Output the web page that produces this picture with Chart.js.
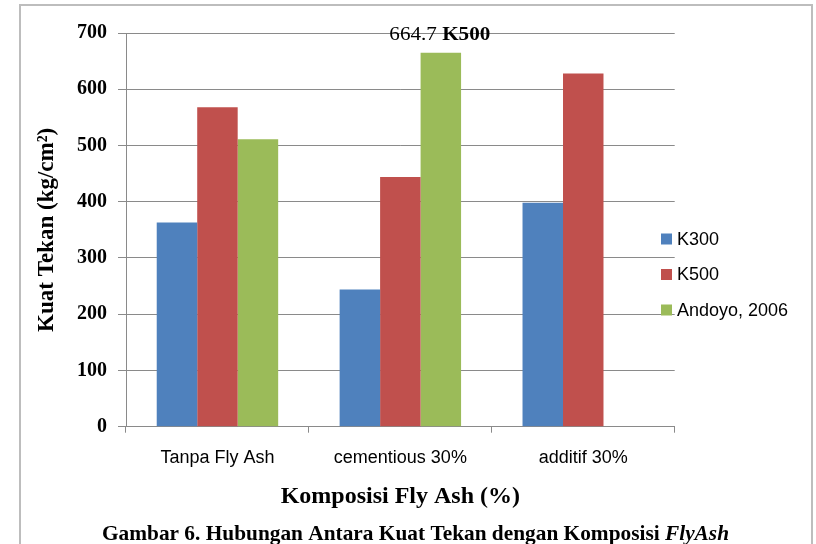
<!DOCTYPE html>
<html>
<head>
<meta charset="utf-8">
<script src="https://cdn.jsdelivr.net/npm/chart.js@4"></script>
<style>
  html, body { margin: 0; padding: 0; background: #fff; }
  #wrap { width: 816px; height: 544px; }
</style>
</head>
<body>
<div id="wrap"><canvas id="grafik"></canvas></div>
<script>
// data
const kategori = ["Tanpa Fly Ash", "cementious 30%", "additif 30%"];
const nilaiK300 = [363, 244, 398];
const nilaiK500 = [568, 444, 628];
const nilaiAndoyo = [511, 664.7, null];
const tickY = [0, 100, 200, 300, 400, 500, 600, 700];
const labelSeri = ["K300", "K500", "Andoyo, 2006"];
const warnaSeri = ["#4f81bd", "#c0504d", "#9bbb59"];

const warnaGrid = "#8a8a8a";

// teks dengan lebar dipaksa (font asli agak dipadatkan)
function tulisBagian(ctx, bagian, x, yBase, lebar, anchor) {
    let total = 0;
    bagian.forEach(b => { ctx.font = b.font; total += ctx.measureText(b.teks).width; });
    const k = lebar / total;
    ctx.save();
    let x0 = anchor === 'center' ? x - lebar / 2 : x;
    ctx.translate(x0, yBase);
    ctx.scale(k, 1);
    ctx.textBaseline = 'alphabetic';
    ctx.textAlign = 'left';
    ctx.fillStyle = '#000';
    let cx = 0;
    bagian.forEach(b => {
        ctx.font = b.font;
        ctx.fillText(b.teks, cx, 0);
        cx += ctx.measureText(b.teks).width;
    });
    ctx.restore();
}

const pluginHiasan = {
    id: 'hiasan',
    beforeDraw(chart) {
        const ctx = chart.ctx;
        ctx.save();
        ctx.fillStyle = '#fff';
        ctx.fillRect(0, 0, chart.width, chart.height);
        ctx.strokeStyle = '#bdbdbd';
        ctx.lineWidth = 2;
        ctx.strokeRect(20, 5, 792, chart.height + 10);
        ctx.restore();
    },
    afterDraw(chart) {
        const ctx = chart.ctx;
        // legenda
        ctx.save();
        const yLeg = [239, 274.5, 310];
        chart.data.datasets.forEach((ds, i) => {
            ctx.fillStyle = ds.backgroundColor;
            ctx.fillRect(661, yLeg[i] - 5.5, 11, 11);
            ctx.fillStyle = '#000';
            ctx.font = '18px "Liberation Sans", Arial, sans-serif';
            ctx.textBaseline = 'middle';
            ctx.textAlign = 'left';
            ctx.fillText(ds.label, 677, yLeg[i] + 1);
        });
        ctx.restore();

        // label di atas batang Andoyo (cementious)
        const bar = chart.getDatasetMeta(2).data[1];
        const yAtas = chart.scales.y.getPixelForValue(700);
        tulisBagian(ctx, [
            { teks: nilaiAndoyo[1] + ' ', font: '18px "Liberation Serif", serif' },
            { teks: labelSeri[1], font: 'bold 18px "Liberation Serif", serif' }
        ], bar.x - 1, yAtas + 6.5, 101, 'center');

        // keterangan gambar
        tulisBagian(ctx, [
            { teks: 'Gambar 6. Hubungan Antara Kuat Tekan dengan Komposisi ', font: 'bold 21px "Liberation Serif", serif' },
            { teks: 'FlyAsh', font: 'italic bold 21px "Liberation Serif", serif' }
        ], 102, 540, 627, 'left');
    }
};

const ctxGrafik = document.getElementById('grafik').getContext('2d');

new Chart(ctxGrafik, {
    type: 'bar',
    data: {
        labels: kategori,
        datasets: [
            { label: labelSeri[0], data: nilaiK300, backgroundColor: warnaSeri[0] },
            { label: labelSeri[1], data: nilaiK500, backgroundColor: warnaSeri[1] },
            { label: labelSeri[2], data: nilaiAndoyo, backgroundColor: warnaSeri[2] }
        ]
    },
    options: {
        responsive: true,
        maintainAspectRatio: false,
        animation: false,
        devicePixelRatio: 1,
        layout: {
            padding: { left: 20, top: 33, right: 141.3, bottom: 33.8 }
        },
        datasets: {
            bar: {
                categoryPercentage: 0.664,
                barPercentage: 1,
                borderWidth: 0
            }
        },
        plugins: {
            legend: { display: false },
            tooltip: { enabled: false },
            title: { display: false }
        },
        scales: {
            x: {
                afterFit: (s) => { s.height = 83.5; },
                grid: {
                    display: true,
                    drawOnChartArea: false,
                    drawTicks: true,
                    tickLength: 6,
                    color: warnaGrid,
                    offset: true
                },
                border: { display: true, color: warnaGrid, width: 1 },
                ticks: {
                    padding: 15,
                    color: '#000',
                    font: { family: '"Liberation Sans", Arial, sans-serif', size: 18 },
                    maxRotation: 0
                },
                title: {
                    display: true,
                    text: 'Komposisi Fly Ash (%)',
                    color: '#000',
                    font: { family: '"Liberation Serif", serif', size: 24, weight: 'bold' },
                    padding: { top: 0, bottom: -1 }
                }
            },
            y: {
                min: 0,
                max: 700,
                afterFit: (s) => { s.width = 106; },
                afterBuildTicks: (s) => { s.ticks = tickY.map(v => ({ value: v })); },
                grid: {
                    color: warnaGrid,
                    lineWidth: 1,
                    tickLength: 8,
                    drawTicks: true
                },
                border: { display: true, color: warnaGrid, width: 1 },
                ticks: {
                    padding: 11,
                    color: '#000',
                    font: { family: '"Liberation Serif", serif', size: 20, weight: 'bold' }
                },
                title: {
                    display: true,
                    text: 'Kuat Tekan (kg/cm²)',
                    color: '#000',
                    font: { family: '"Liberation Serif", serif', size: 23, weight: 'bold' },
                    padding: { top: 13, bottom: 0 }
                }
            }
        }
    },
    plugins: [pluginHiasan]
});
</script>
</body>
</html>
